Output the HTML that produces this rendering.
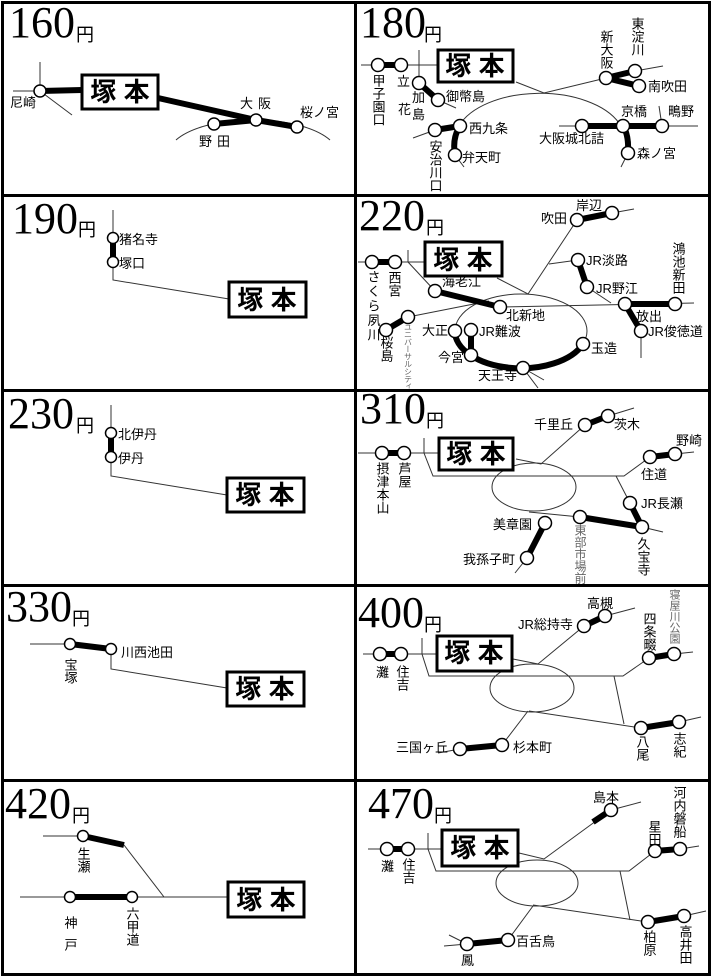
<!DOCTYPE html>
<html><head><meta charset="utf-8">
<style>
html,body{margin:0;padding:0;background:#fff}
svg{display:block}
.l{stroke:#333;stroke-width:1;fill:none}
.t{stroke:#000;stroke-width:6;fill:none}
.c{fill:#fff;stroke:#000;stroke-width:1.5}
text{font-family:"Liberation Sans","Noto Sans CJK JP",sans-serif;font-size:13px;fill:#000}
.p{font-family:"Liberation Serif","Noto Serif CJK SC",serif;font-size:44px}
.y{font-size:18px}
.v{writing-mode:vertical-rl;writing-mode:tb;}
.bx{font-size:26px;text-anchor:middle;font-weight:bold}
.g{fill:#666}
.b{fill:#fff;stroke:#000;stroke-width:3}
</style></head><body>
<svg width="712" height="977" viewBox="0 0 712 977" xmlns="http://www.w3.org/2000/svg">
<rect x="2.5" y="2.5" width="707" height="972" fill="none" stroke="#000" stroke-width="3"/>
<line x1="355.5" y1="2" x2="355.5" y2="975" stroke="#000" stroke-width="3"/>
<line x1="2" y1="195.5" x2="710" y2="195.5" stroke="#000" stroke-width="3"/>
<line x1="2" y1="390.5" x2="710" y2="390.5" stroke="#000" stroke-width="3"/>
<line x1="2" y1="585.5" x2="710" y2="585.5" stroke="#000" stroke-width="3"/>
<line x1="2" y1="780.5" x2="710" y2="780.5" stroke="#000" stroke-width="3"/>

<!-- 160 -->
<text x="9" y="37" class="p">160</text><text x="76" y="41" class="y">円</text>
<line class="l" x1="40" y1="62" x2="40" y2="91"/>
<line class="l" x1="13" y1="91" x2="40" y2="91"/>
<line class="l" x1="40" y1="91" x2="72" y2="115"/>
<path class="l" d="M176,140 A85,35 0 0 1 330,140"/>
<line class="t" x1="40" y1="91" x2="82" y2="90"/>
<polyline class="t" points="158,98 256,120 297,127"/>
<line class="t" x1="214" y1="124" x2="256" y2="120"/>
<circle class="c" cx="40" cy="91" r="6"/>
<circle class="c" cx="214" cy="124" r="6"/>
<circle class="c" cx="256" cy="120" r="6"/>
<circle class="c" cx="297" cy="127" r="6"/>
<text x="10" y="107">尼崎</text>
<text x="240" y="108" letter-spacing="5">大阪</text>
<text x="300" y="117">桜ノ宮</text>
<text x="199" y="146" letter-spacing="5">野田</text>
<rect x="82" y="75" width="76" height="34" class="b"/>
<text x="120" y="101" class="bx">塚 本</text>

<!-- 190 -->
<text x="12" y="233" class="p">190</text><text x="78" y="236" class="y">円</text>
<polyline class="l" points="113,210 113,280 229,299"/>
<line class="t" x1="113" y1="238" x2="113" y2="262"/>
<circle class="c" cx="113" cy="238" r="5.5"/>
<circle class="c" cx="113" cy="262" r="5.5"/>
<text x="119" y="244">猪名寺</text>
<text x="119" y="268">塚口</text>
<rect x="229" y="282" width="77" height="35" class="b"/>
<text x="267" y="309" class="bx">塚 本</text>

<!-- 230 -->
<text x="8" y="428" class="p">230</text><text x="76" y="432" class="y">円</text>
<polyline class="l" points="111,405 111,476 227,495"/>
<line class="t" x1="111" y1="433" x2="111" y2="457"/>
<circle class="c" cx="111" cy="433" r="5.5"/>
<circle class="c" cx="111" cy="457" r="5.5"/>
<text x="118" y="439">北伊丹</text>
<text x="118" y="463">伊丹</text>
<rect x="227" y="478" width="77" height="34" class="b"/>
<text x="265" y="504" class="bx">塚 本</text>

<!-- 330 -->
<text x="6" y="621" class="p">330</text><text x="72" y="625" class="y">円</text>
<line class="l" x1="30" y1="644" x2="70" y2="644"/>
<polyline class="l" points="111,649 111,669 227,688"/>
<line class="t" x1="70" y1="644" x2="111" y2="649"/>
<circle class="c" cx="70" cy="644" r="5.5"/>
<circle class="c" cx="111" cy="649" r="5.5"/>
<text x="70" y="658" class="v">宝塚</text>
<text x="121" y="657">川西池田</text>
<rect x="227" y="672" width="77" height="34" class="b"/>
<text x="265" y="698" class="bx">塚 本</text>

<!-- 420 -->
<text x="5" y="818" class="p">420</text><text x="72" y="822" class="y">円</text>
<line class="l" x1="43" y1="836" x2="83" y2="836"/>
<line class="l" x1="124" y1="845" x2="164" y2="897"/>
<line class="l" x1="20" y1="897" x2="228" y2="897"/>
<line class="t" x1="83" y1="836" x2="124" y2="845"/>
<line class="t" x1="70" y1="897" x2="132" y2="897"/>
<circle class="c" cx="83" cy="836" r="5.5"/>
<circle class="c" cx="70" cy="897" r="5.5"/>
<circle class="c" cx="132" cy="897" r="5.5"/>
<text x="83" y="847" class="v">生瀬</text>
<text x="70" y="916" class="v" letter-spacing="9">神戸</text>
<text x="132" y="907" class="v">六甲道</text>
<rect x="228" y="882" width="76" height="35" class="b"/>
<text x="266" y="909" class="bx">塚 本</text>

<!-- 180 -->
<text x="360" y="37" class="p">180</text><text x="424" y="41" class="y">円</text>
<line class="l" x1="361" y1="65" x2="378" y2="65"/>
<line class="l" x1="401" y1="65" x2="438" y2="65" stroke="#777"/>
<line class="l" x1="419" y1="50" x2="419" y2="83"/>
<line class="l" x1="438" y1="100" x2="456" y2="108"/>
<polyline class="l" points="516,82 544,93 606,78"/>
<path class="l" d="M459,126 A85,47 0 0 1 619,123"/>
<line class="l" x1="635" y1="71" x2="663" y2="66"/>
<line class="l" x1="559" y1="126" x2="698" y2="126"/>
<line class="l" x1="659" y1="106" x2="662" y2="126"/>
<line class="l" x1="628" y1="153" x2="621" y2="167"/>
<line class="l" x1="435" y1="130" x2="413" y2="138"/>
<line class="l" x1="455" y1="155" x2="464" y2="167"/>
<line class="t" x1="378" y1="65" x2="401" y2="65"/>
<line class="t" x1="419" y1="83" x2="438" y2="100"/>
<line class="t" x1="606" y1="78" x2="635" y2="71"/>
<line class="t" x1="606" y1="78" x2="639" y2="86"/>
<line class="t" x1="582" y1="126" x2="662" y2="126"/>
<path class="t" d="M623,126 Q629,135 628,153"/>
<line class="t" x1="435" y1="130" x2="460" y2="126"/>
<path class="t" d="M460,126 Q452,138 455,155"/>
<circle class="c" cx="378" cy="65" r="6.5"/>
<circle class="c" cx="401" cy="65" r="6.5"/>
<circle class="c" cx="419" cy="83" r="6.5"/>
<circle class="c" cx="438" cy="100" r="6.5"/>
<circle class="c" cx="606" cy="78" r="6.5"/>
<circle class="c" cx="635" cy="71" r="6.5"/>
<circle class="c" cx="639" cy="86" r="6.5"/>
<circle class="c" cx="582" cy="126" r="6.5"/>
<circle class="c" cx="623" cy="126" r="6.5"/>
<circle class="c" cx="662" cy="126" r="6.5"/>
<circle class="c" cx="628" cy="153" r="6.5"/>
<circle class="c" cx="435" cy="130" r="6.5"/>
<circle class="c" cx="460" cy="126" r="6.5"/>
<circle class="c" cx="455" cy="155" r="6.5"/>
<text x="378" y="74" class="v">甲子園口</text>
<text x="397" y="86">立</text><text x="398" y="114">花</text>
<text x="412" y="102">加</text><text x="412" y="119">島</text>
<text x="446" y="101">御幣島</text>
<text x="606" y="30" class="v">新大阪</text>
<text x="637" y="17" class="v">東淀川</text>
<text x="648" y="91">南吹田</text>
<text x="621" y="116">京橋</text>
<text x="668" y="116">鴫野</text>
<text x="539" y="143">大阪城北詰</text>
<text x="637" y="158">森ノ宮</text>
<text x="469" y="133">西九条</text>
<text x="462" y="162">弁天町</text>
<text x="435" y="140" class="v">安治川口</text>
<rect x="438" y="50" width="75" height="32" class="b"/>
<text x="475" y="75" class="bx">塚 本</text>

<!-- 220 -->
<text x="359" y="230" class="p">220</text><text x="426" y="234" class="y">円</text>
<line class="l" x1="358" y1="262" x2="372" y2="262"/>
<line class="l" x1="395" y1="262" x2="425" y2="262" stroke="#777"/>
<polyline class="l" points="408,250 408,262 435,291"/>
<polyline class="l" points="497,278 528,294 577,220"/>
<line class="l" x1="612" y1="213" x2="634" y2="209"/>
<line class="l" x1="500" y1="307" x2="694" y2="303"/>
<line class="l" x1="549" y1="264" x2="578" y2="260"/>
<line class="l" x1="587" y1="287" x2="611" y2="303"/>
<line class="l" x1="641" y1="331" x2="641" y2="358"/>
<ellipse class="l" cx="521" cy="331" rx="66" ry="37"/>
<line class="l" x1="523" y1="368" x2="544" y2="380"/>
<line class="l" x1="523" y1="368" x2="538" y2="388"/>
<line class="l" x1="408" y1="317" x2="489" y2="301"/>
<line class="t" x1="372" y1="262" x2="395" y2="262"/>
<line class="t" x1="435" y1="291" x2="500" y2="307"/>
<line class="t" x1="577" y1="220" x2="612" y2="213"/>
<line class="t" x1="578" y1="260" x2="587" y2="287"/>
<line class="t" x1="625" y1="304" x2="675" y2="304"/>
<line class="t" x1="625" y1="304" x2="641" y2="331"/>
<path class="t" d="M455,331 A66,37 0 0 0 583,344"/>
<line class="t" x1="471" y1="330" x2="471" y2="355"/>
<line class="t" x1="386" y1="330" x2="408" y2="317"/>
<circle class="c" cx="372" cy="262" r="6.5"/>
<circle class="c" cx="395" cy="262" r="6.5"/>
<circle class="c" cx="435" cy="291" r="6.5"/>
<circle class="c" cx="500" cy="307" r="6.5"/>
<circle class="c" cx="577" cy="220" r="6.5"/>
<circle class="c" cx="612" cy="213" r="6.5"/>
<circle class="c" cx="578" cy="260" r="6.5"/>
<circle class="c" cx="587" cy="287" r="6.5"/>
<circle class="c" cx="625" cy="304" r="6.5"/>
<circle class="c" cx="675" cy="304" r="6.5"/>
<circle class="c" cx="641" cy="331" r="6.5"/>
<circle class="c" cx="455" cy="331" r="6.5"/>
<circle class="c" cx="471" cy="330" r="6.5"/>
<circle class="c" cx="471" cy="355" r="6.5"/>
<circle class="c" cx="523" cy="368" r="6.5"/>
<circle class="c" cx="583" cy="344" r="6.5"/>
<circle class="c" cx="386" cy="330" r="6.5"/>
<circle class="c" cx="408" cy="317" r="6.5"/>
<text x="541" y="223">吹田</text>
<text x="576" y="210">岸辺</text>
<text x="586" y="265">JR淡路</text>
<text x="596" y="293">JR野江</text>
<text x="678" y="242" class="v">鴻池新田</text>
<text x="636" y="321">放出</text>
<text x="648" y="336">JR俊徳道</text>
<text x="591" y="353">玉造</text>
<text x="478" y="380">天王寺</text>
<text x="438" y="362">今宮</text>
<text x="422" y="335">大正</text>
<text x="479" y="336">JR難波</text>
<text x="506" y="320">北新地</text>
<text x="442" y="286">海老江</text>
<text x="373" y="270" class="v" letter-spacing="1.5">さくら夙川</text>
<text x="394" y="271" class="v">西宮</text>
<text x="386" y="336" class="v">桜島</text>
<text x="408" y="323" class="v g" style="font-size:8px" letter-spacing="-0.6">ユニバーサルシティ</text>
<rect x="425" y="242" width="77" height="34" class="b"/>
<text x="463" y="269" class="bx">塚 本</text>

<!-- 310 -->
<text x="360" y="423" class="p">310</text><text x="426" y="427" class="y">円</text>
<line class="l" x1="358" y1="453" x2="382" y2="453"/>
<line class="l" x1="404" y1="453" x2="439" y2="453" stroke="#777"/>
<polyline class="l" points="424,438 424,453 433,476 624,476 650,457"/>
<line class="l" x1="675" y1="454" x2="694" y2="452"/>
<line class="l" x1="616" y1="476" x2="630" y2="503"/>
<line class="l" x1="642" y1="527" x2="663" y2="532"/>
<line class="l" x1="529" y1="512" x2="580" y2="517"/>
<ellipse class="l" cx="534" cy="487" rx="42" ry="24"/>
<polyline class="l" points="516,459 541,464 585,425"/>
<line class="l" x1="608" y1="416" x2="634" y2="408"/>
<line class="l" x1="527" y1="558" x2="515" y2="573"/>
<line class="t" x1="382" y1="453" x2="404" y2="453"/>
<line class="t" x1="650" y1="457" x2="675" y2="454"/>
<line class="t" x1="630" y1="503" x2="642" y2="527"/>
<line class="t" x1="580" y1="517" x2="642" y2="527"/>
<line class="t" x1="585" y1="425" x2="608" y2="416"/>
<line class="t" x1="545" y1="523" x2="527" y2="558"/>
<circle class="c" cx="382" cy="453" r="6.5"/>
<circle class="c" cx="404" cy="453" r="6.5"/>
<circle class="c" cx="650" cy="457" r="6.5"/>
<circle class="c" cx="675" cy="454" r="6.5"/>
<circle class="c" cx="630" cy="503" r="6.5"/>
<circle class="c" cx="642" cy="527" r="6.5"/>
<circle class="c" cx="580" cy="517" r="6.5"/>
<circle class="c" cx="585" cy="425" r="6.5"/>
<circle class="c" cx="608" cy="416" r="6.5"/>
<circle class="c" cx="545" cy="523" r="6.5"/>
<circle class="c" cx="527" cy="558" r="6.5"/>
<text x="534" y="429">千里丘</text>
<text x="614" y="429">茨木</text>
<text x="676" y="445">野崎</text>
<text x="641" y="479">住道</text>
<text x="641" y="508">JR長瀬</text>
<text x="493" y="529">美章園</text>
<text x="463" y="564">我孫子町</text>
<text x="580" y="524" class="v g" style="font-size:12px">東部市場前</text>
<text x="643" y="537" class="v">久宝寺</text>
<text x="382" y="462" class="v">摂津本山</text>
<text x="404" y="462" class="v">芦屋</text>
<rect x="439" y="438" width="74" height="32" class="b"/>
<text x="476" y="463" class="bx">塚 本</text>

<!-- 400 -->
<text x="358" y="627" class="p">400</text><text x="424" y="631" class="y">円</text>
<line class="l" x1="363" y1="654" x2="380" y2="654"/>
<line class="l" x1="401" y1="654" x2="437" y2="654"/>
<polyline class="l" points="422,638 422,654 429,676 623,676 649,658"/>
<line class="l" x1="674" y1="654" x2="693" y2="652"/>
<line class="l" x1="614" y1="676" x2="624" y2="724"/>
<line class="l" x1="529" y1="711" x2="641" y2="728"/>
<line class="l" x1="679" y1="722" x2="701" y2="717"/>
<ellipse class="l" cx="532" cy="688" rx="42" ry="24"/>
<polyline class="l" points="513,659 538,664 584,626"/>
<line class="l" x1="605" y1="616" x2="635" y2="608"/>
<line class="l" x1="528" y1="711" x2="502" y2="745"/>
<line class="l" x1="460" y1="749" x2="438" y2="753"/>
<line class="t" x1="380" y1="654" x2="401" y2="654"/>
<line class="t" x1="649" y1="658" x2="674" y2="654"/>
<line class="t" x1="641" y1="728" x2="679" y2="722"/>
<line class="t" x1="584" y1="626" x2="605" y2="616"/>
<line class="t" x1="502" y1="745" x2="460" y2="749"/>
<circle class="c" cx="380" cy="654" r="6.5"/>
<circle class="c" cx="401" cy="654" r="6.5"/>
<circle class="c" cx="649" cy="658" r="6.5"/>
<circle class="c" cx="674" cy="654" r="6.5"/>
<circle class="c" cx="641" cy="728" r="6.5"/>
<circle class="c" cx="679" cy="722" r="6.5"/>
<circle class="c" cx="584" cy="626" r="6.5"/>
<circle class="c" cx="605" cy="616" r="6.5"/>
<circle class="c" cx="502" cy="745" r="6.5"/>
<circle class="c" cx="460" cy="749" r="6.5"/>
<text x="518" y="629">JR総持寺</text>
<text x="587" y="608">高槻</text>
<text x="649" y="612" class="v">四条畷</text>
<text x="674" y="589" class="v g" style="font-size:11px">寝屋川公園</text>
<text x="376" y="677">灘</text>
<text x="402" y="665" class="v">住吉</text>
<text x="396" y="752">三国ヶ丘</text>
<text x="513" y="752">杉本町</text>
<text x="642" y="735" class="v">八尾</text>
<text x="679" y="732" class="v">志紀</text>
<rect x="437" y="636" width="75" height="35" class="b"/>
<text x="474" y="662" class="bx">塚 本</text>

<!-- 470 -->
<text x="368" y="818" class="p">470</text><text x="434" y="822" class="y">円</text>
<line class="l" x1="368" y1="849" x2="387" y2="849"/>
<line class="l" x1="408" y1="849" x2="442" y2="849"/>
<polyline class="l" points="428,833 428,849 436,871 629,871 655,851"/>
<line class="l" x1="680" y1="849" x2="699" y2="846"/>
<line class="l" x1="620" y1="871" x2="630" y2="920"/>
<line class="l" x1="533" y1="905" x2="648" y2="922"/>
<line class="l" x1="684" y1="916" x2="706" y2="911"/>
<ellipse class="l" cx="537" cy="883" rx="41" ry="23"/>
<polyline class="l" points="519,853 544,859 611,810"/>
<line class="l" x1="611" y1="810" x2="641" y2="802"/>
<line class="l" x1="533" y1="906" x2="508" y2="940"/>
<line class="l" x1="467" y1="944" x2="444" y2="946"/>
<line class="l" x1="467" y1="944" x2="449" y2="935"/>
<line class="t" x1="387" y1="849" x2="408" y2="849"/>
<line class="t" x1="655" y1="851" x2="680" y2="849"/>
<line class="t" x1="648" y1="922" x2="684" y2="916"/>
<line class="t" x1="593" y1="822" x2="611" y2="810"/>
<line class="t" x1="508" y1="940" x2="467" y2="944"/>
<circle class="c" cx="387" cy="849" r="6.5"/>
<circle class="c" cx="408" cy="849" r="6.5"/>
<circle class="c" cx="655" cy="851" r="6.5"/>
<circle class="c" cx="680" cy="849" r="6.5"/>
<circle class="c" cx="648" cy="922" r="6.5"/>
<circle class="c" cx="684" cy="916" r="6.5"/>
<circle class="c" cx="611" cy="810" r="6.5"/>
<circle class="c" cx="508" cy="940" r="6.5"/>
<circle class="c" cx="467" cy="944" r="6.5"/>
<text x="593" y="802">島本</text>
<text x="654" y="820" class="v">星田</text>
<text x="679" y="786" class="v">河内磐船</text>
<text x="381" y="871">灘</text>
<text x="408" y="858" class="v">住吉</text>
<text x="516" y="946">百舌鳥</text>
<text x="461" y="965">鳳</text>
<text x="649" y="930" class="v">柏原</text>
<text x="685" y="925" class="v">高井田</text>
<rect x="442" y="830" width="76" height="36" class="b"/>
<text x="480" y="857" class="bx">塚 本</text>
</svg>
</body></html>
